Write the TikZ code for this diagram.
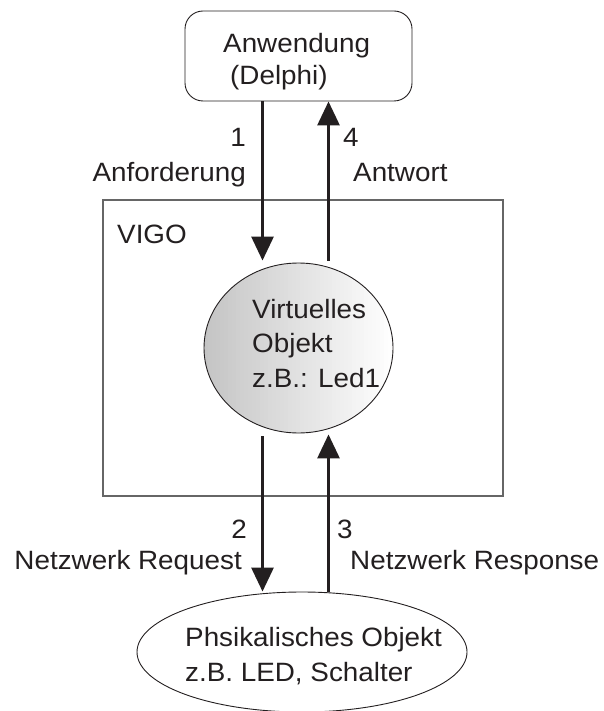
\documentclass[tikz,border=0pt]{standalone}
\usepackage{fontspec}
\setmainfont{Liberation Sans}[FakeStretch=1.05]
\usetikzlibrary{arrows.meta,shapes.geometric}
\definecolor{ink}{HTML}{231F20}
\definecolor{shadeL}{HTML}{C4C4C4}
\begin{document}
\begin{tikzpicture}[x=1pt,y=-1pt,
  lbl/.style={inner sep=0pt,text=ink,font=\fontsize{26.5}{34}\selectfont},
  flow/.style={line width=3pt,draw=ink,-{Triangle[width=22pt,length=24pt]}},
  thin/.style={draw=ink,line width=0.9pt}]
\useasboundingbox (0,0) rectangle (604,711);

% application box
\node[thin,rectangle,rounded corners=18pt,minimum width=227pt,minimum height=90pt,inner sep=0pt]
  (app) at (298.5,56) {};
\node[lbl,anchor=base west] (appA) at (223,53) {Anwendung};
\node[lbl,anchor=base west] (appB) at (230,85) {(Delphi)};

% VIGO frame
\node[draw=black!60,line width=1.1pt,rectangle,minimum width=400pt,minimum height=296pt,inner sep=0pt]
  (vigo) at (303,348) {};
\node[lbl,anchor=base west] (vigoT) at (117,243) {VIGO};

% virtual object: light grey on the left fading to white on the right
\begin{scope}
  \clip (298.5,348) ellipse [x radius=94.5, y radius=85];
  \foreach \i in {0,...,47}{
    \pgfmathtruncatemacro{\shadeval}{100*(1-\i/47)}
    \fill[shadeL!\shadeval!white] (204+\i*4,262) rectangle (204+\i*4+4.6,434);
  }
\end{scope}
\node[thin,ellipse,minimum width=189pt,minimum height=170pt,inner sep=0pt]
  (virt) at (298.5,348) {};
\node[lbl,anchor=base west] (virtA) at (252,318) {Virtuelles};
\node[lbl,anchor=base west] (virtB) at (252,352) {Objekt};
\node[lbl,anchor=base west] (virtC) at (252,387) {z.B.: Led1};

% physical object
\node[thin,ellipse,minimum width=330pt,minimum height=120pt,inner sep=0pt]
  (phys) at (302,652) {};
\node[lbl,anchor=base west] (physA) at (185,646) {Phsikalisches Objekt};
\node[lbl,anchor=base west] (physB) at (185,681) {z.B. LED, Schalter};

% arrow columns
\coordinate (colA) at (262.5,0);
\coordinate (colB) at (328.5,0);

% connectors
\draw[flow] (app.south -| colA) -- ([yshift=2pt]virt.north -| colA);
\draw[flow] ([yshift=2pt]virt.north -| colB) -- (app.south -| colB);
\draw[flow] ([yshift=-3pt]virt.south -| colA) -- (phys.north -| colA);
\draw[flow] (phys.north -| colB) -- ([yshift=-1pt]virt.south -| colB);

% connector labels
\node[lbl,anchor=base east] (n1) at (246,147) {1};
\node[lbl,anchor=base east] (req1) at (246,182) {Anforderung};
\node[lbl,anchor=base west] (n4) at (343,147) {4};
\node[lbl,anchor=base west] (ans) at (353,182) {Antwort};
\node[lbl,anchor=base east] (n2) at (247,538) {2};
\node[lbl,anchor=base east] (req2) at (242,569) {Netzwerk Request};
\node[lbl,anchor=base west] (n3) at (337,538) {3};
\node[lbl,anchor=base west] (res) at (350,569) {Netzwerk Response};
\end{tikzpicture}
\end{document}
